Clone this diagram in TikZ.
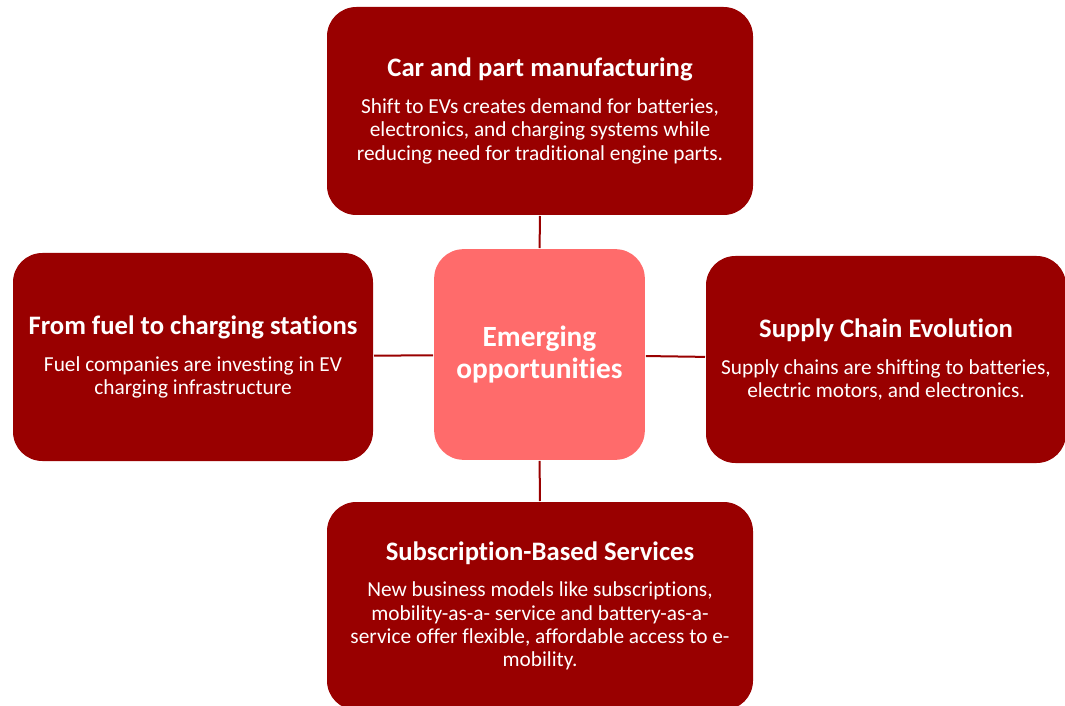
\documentclass[tikz,border=0pt]{standalone}
\usepackage{fontspec}
\setmainfont{Carlito}[Ligatures=CommonOff]
\usetikzlibrary{positioning}
\definecolor{cdarkred}{HTML}{990000}
\definecolor{csalmon}{HTML}{FF6B6B}
\tikzset{
  every picture/.style={line width=1.5pt},
  card/.style={fill=cdarkred, rounded corners=22pt, align=center, text=white, inner sep=0pt,
    font=\fontsize{16}{17.5}\selectfont, minimum width=#1, minimum height=156pt},
  card/.default=319.5pt,
  hub/.style={fill=csalmon, rounded corners=22pt, align=center, text=white, inner sep=0pt,
    font=\fontsize{22}{24}\selectfont\bfseries, minimum width=158pt, minimum height=158pt},
  link/.style={draw=cdarkred, line width=1.5pt},
}
% bold heading line of a card
\newcommand{\cardhead}[1]{{\fontsize{20}{24}\selectfont\bfseries #1}\\[10pt]}

\begin{document}
\begin{tikzpicture}[x=0.75pt, y=-0.75pt]
  \useasboundingbox (0,0) rectangle (1065,706);
  % centre
  \node[hub] (hub) at (539.5,354.5) {Emerging\\opportunities};
  % four cards round it
  \node[card] (manuf) at (540,111) {\cardhead{Car and part manufacturing}
    Shift to EVs creates demand for batteries,\\
    electronics, and charging systems while\\
    reducing need for traditional engine parts.};
  \node[card=270pt] (fuel) at (193,357) {\cardhead{From fuel to charging stations}
    Fuel companies are investing in EV\\
    charging infrastructure};
  \node[card=270pt, minimum height=155.25pt] (supply) at (886,359.5) {\cardhead{Supply Chain Evolution}
    Supply chains are shifting to batteries,\\
    electric motors, and electronics.};
  \node[card] (subs) at (540,606) {\cardhead{Subscription-Based Services}
    New business models like subscriptions,\\
    mobility-as-a- service and battery-as-a-\\
    service offer flexible, affordable access to e-\\
    mobility.};
  % links
  \draw[link] (manuf) -- (hub);
  \draw[link] (fuel) -- (hub);
  \draw[link] (supply) -- (hub);
  \draw[link] (subs) -- (hub);
\end{tikzpicture}
\end{document}
